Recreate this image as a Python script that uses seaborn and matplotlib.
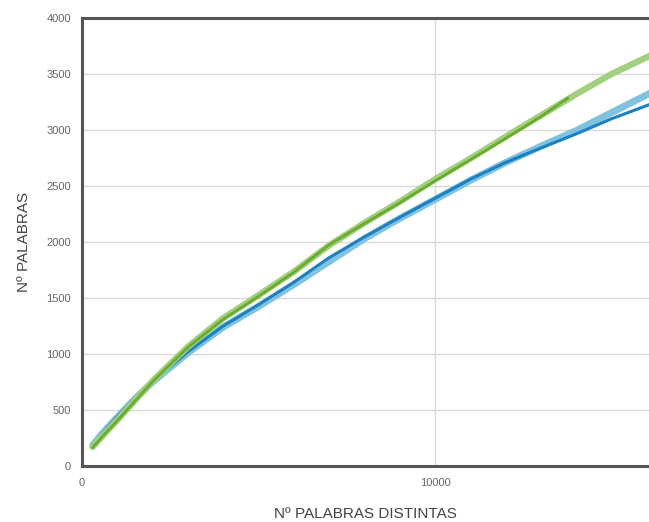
import matplotlib
matplotlib.use("Agg")
import matplotlib.pyplot as plt
import seaborn as sns
import pandas as pd

# ---- data ----
green_light_x = [300, 600, 1000, 1500, 2000, 3000, 4000, 5000, 6000, 7000, 8000, 9000, 10000, 11000, 12000, 13000, 14000, 15000, 16100]
green_light_y = [170, 275, 410, 585, 760, 1065, 1320, 1525, 1735, 1970, 2170, 2360, 2560, 2745, 2940, 3130, 3320, 3500, 3665]

green_dark_x = [300, 600, 1000, 1500, 2000, 3000, 4000, 5000, 6000, 7000, 8000, 9000, 10000, 11000, 12000, 13000, 13770]
green_dark_y = [165, 270, 405, 580, 755, 1060, 1310, 1515, 1730, 1975, 2165, 2350, 2545, 2735, 2925, 3120, 3286]

blue_light_x = [300, 600, 1000, 1500, 2000, 3000, 4000, 5000, 6000, 7000, 8000, 9000, 10000, 11000, 12000, 13000, 14000, 15000, 16100]
blue_light_y = [185, 300, 435, 600, 750, 1010, 1240, 1425, 1620, 1825, 2030, 2210, 2380, 2550, 2710, 2855, 2995, 3155, 3330]

blue_dark_x = [300, 600, 1000, 1500, 2000, 3000, 4000, 5000, 6000, 7000, 8000, 9000, 10000, 11000, 12000, 13000, 14000, 15000, 16100]
blue_dark_y = [180, 300, 440, 605, 755, 1020, 1250, 1440, 1640, 1860, 2045, 2220, 2390, 2560, 2710, 2840, 2965, 3100, 3230]

x_ticks = [0, 10000]
y_ticks = [0, 500, 1000, 1500, 2000, 2500, 3000, 3500, 4000]

sns.set_style("white")
plt.rcParams["font.family"] = ["Liberation Sans", "DejaVu Sans"]

W, H = 649, 522
fig = plt.figure(figsize=(W / 100, H / 100), dpi=100)
ax = fig.add_axes([82 / W, (H - 466) / H, (W - 82) / W, (466 - 18) / H])

series = [
    (blue_light_x, blue_light_y, "#7fc3df", 5.0),
    (blue_dark_x, blue_dark_y, "#1b80c4", 2.2),
    (green_light_x, green_light_y, "#a3d07f", 4.6),
    (green_dark_x, green_dark_y, "#6aac2c", 2.0),
]
for xs, ys, col, lw in series:
    df = pd.DataFrame({"x": xs, "y": ys})
    sns.lineplot(data=df, x="x", y="y", ax=ax, color=col, linewidth=lw,
                 sort=False, estimator=None, solid_capstyle="round",
                 solid_joinstyle="round")

ax.set_xlim(0, (W - 82) / 0.0353)
ax.set_ylim(0, 4000)
ax.set_xticks(x_ticks)
ax.set_yticks(y_ticks)
ax.set_xticklabels([str(v) for v in x_ticks])
ax.set_yticklabels([str(v) for v in y_ticks])

ax.grid(True, color="#d9d9d9", linewidth=1.0)
ax.set_axisbelow(True)

for side in ["left", "bottom", "top"]:
    ax.spines[side].set_color("#555555")
    ax.spines[side].set_linewidth(2.2)
ax.spines["right"].set_visible(False)

ax.tick_params(axis="both", length=0, labelsize=8, labelcolor="#666666")
ax.tick_params(axis="y", pad=8)
ax.tick_params(axis="x", pad=9)

ax.set_xlabel("Nº PALABRAS DISTINTAS", fontsize=11, color="#444444", labelpad=13)
ax.set_ylabel("Nº PALABRAS", fontsize=11, color="#444444", labelpad=11)

fig.savefig("out.png", dpi=100)
